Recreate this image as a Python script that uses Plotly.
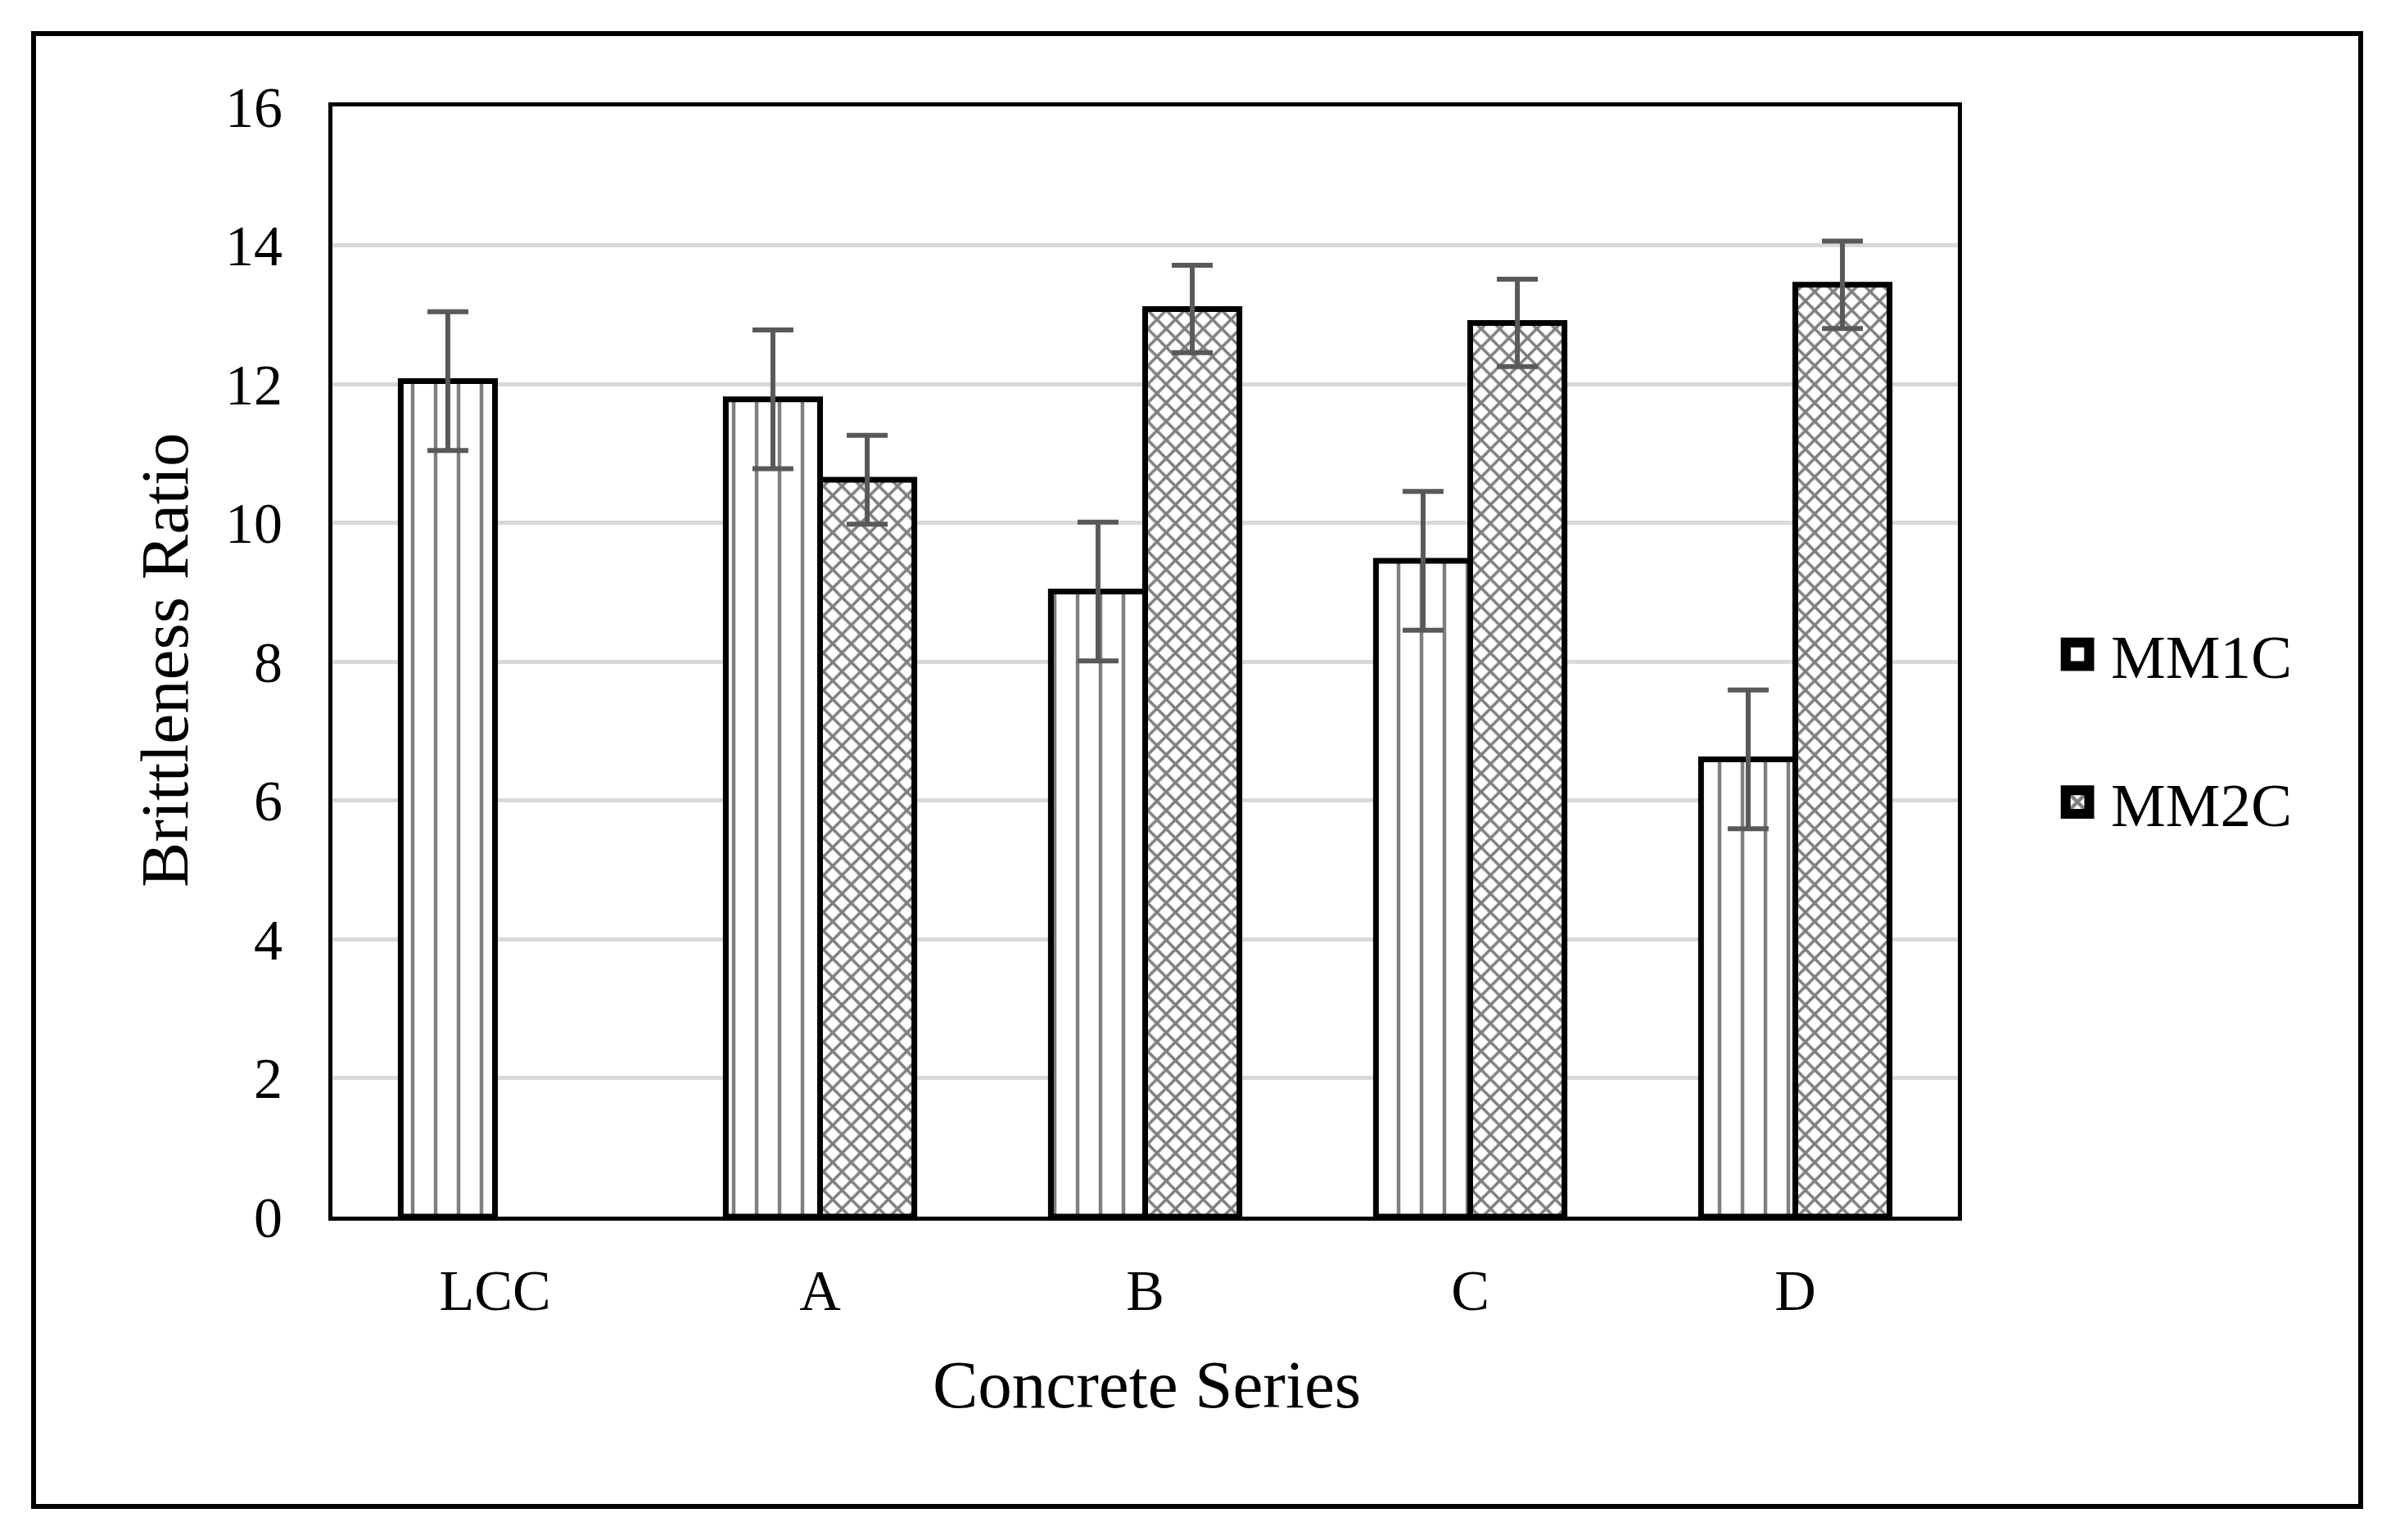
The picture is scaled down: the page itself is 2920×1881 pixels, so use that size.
import plotly.graph_objects as go

categories = ["LCC", "A", "B", "C", "D"]
mm1c = [12.04, 11.78, 9.01, 9.45, 6.59]
mm1c_err = [1.0, 1.0, 1.0, 1.0, 1.0]
mm2c = [None, 10.62, 13.08, 12.88, 13.43]
mm2c_err = [None, 0.64, 0.63, 0.63, 0.63]
y_ticks = [0, 2, 4, 6, 8, 10, 12, 14, 16]

W, H = 2920, 1881
L, R, T, B = 406, 2391, 130, 1486
pw, ph = R - L, B - T

bw = 0.29
FONT = "Liberation Serif"

fig = go.Figure()
fig.add_trace(go.Bar(
    name="MM1C", x=categories, y=mm1c, width=bw, offset=-bw,
    marker=dict(color="white", line=dict(color="black", width=7),
                pattern=dict(shape="|", fgcolor="black", bgcolor="white",
                             size=28, solidity=0.16, fillmode="overlay")),
    error_y=dict(type="data", array=mm1c_err, color="#595959", thickness=6, width=25),
    legendgroup="g1",
))
fig.add_trace(go.Bar(
    name="MM2C", x=categories, y=mm2c, width=bw, offset=0,
    marker=dict(color="white", line=dict(color="black", width=7),
                pattern=dict(shape="x", fgcolor="black", bgcolor="white",
                             size=16, solidity=0.4, fillmode="overlay")),
    error_y=dict(type="data", array=mm2c_err, color="#595959", thickness=6, width=25),
    legendgroup="g2",
))

def px_x(p):
    return (p - L) / pw

def px_y(p):
    return (B - p) / ph

fig.update_layout(
    width=W, height=H, barmode="overlay",
    margin=dict(l=L, r=W - R, t=T, b=H - B, autoexpand=False),
    paper_bgcolor="white", plot_bgcolor="white",
    font=dict(family=FONT, color="black", size=70),
    showlegend=True,
    legend=dict(x=1.062, xanchor="left", y=0.44, yanchor="middle", itemwidth=54,
                font=dict(family=FONT, size=75, color="black"),
                tracegroupgap=80, bgcolor="rgba(0,0,0,0)"),
    xaxis=dict(type="category", showline=True, mirror=True, linecolor="black", linewidth=5,
               showgrid=False, ticks="", tickfont=dict(family=FONT, size=70, color="black"),
               ticklabelstandoff=25, automargin=False),
    yaxis=dict(range=[0, 16], tickvals=y_ticks, showline=True, mirror=True, linecolor="black",
               linewidth=5, showgrid=True, gridcolor="#d9d9d9", gridwidth=5, zeroline=False,
               ticks="", tickfont=dict(family=FONT, size=70, color="black"),
               ticklabelstandoff=42, automargin=False),
    annotations=[
        dict(text="Brittleness Ratio", xref="paper", yref="paper", x=px_x(201), y=px_y(806),
             textangle=-90, showarrow=False, font=dict(family=FONT, size=83, color="black"),
             xanchor="center", yanchor="middle"),
        dict(text="Concrete Series", xref="paper", yref="paper", x=px_x(1400), y=px_y(1691),
             showarrow=False, font=dict(family=FONT, size=83, color="black"),
             xanchor="center", yanchor="middle"),
    ],
    shapes=[
        dict(type="rect", xref="paper", yref="paper",
             x0=px_x(41), x1=px_x(2883), y0=px_y(1840), y1=px_y(41),
             line=dict(color="black", width=6), fillcolor="rgba(0,0,0,0)", layer="below"),
    ],
)

post = """
document.body.style.margin='0';
document.body.style.overflow='hidden';
var gd = document.getElementById('{plot_id}');
function growLegend() {
  gd.querySelectorAll('.legendpoints path').forEach(function(p) {
    var t0 = p.getAttribute('data-t0');
    if (t0 === null) {
      t0 = p.getAttribute('transform') || '';
      p.setAttribute('data-t0', t0);
    }
    p.setAttribute('transform', t0 + ' translate(-9,0) scale(2.4)');
  });
}
if (gd && gd.on) { gd.on('plotly_afterplot', growLegend); }
growLegend();
setTimeout(growLegend, 50);
setTimeout(growLegend, 300);
"""

fig.write_html("out.html", config={"displayModeBar": False}, post_script=post)
